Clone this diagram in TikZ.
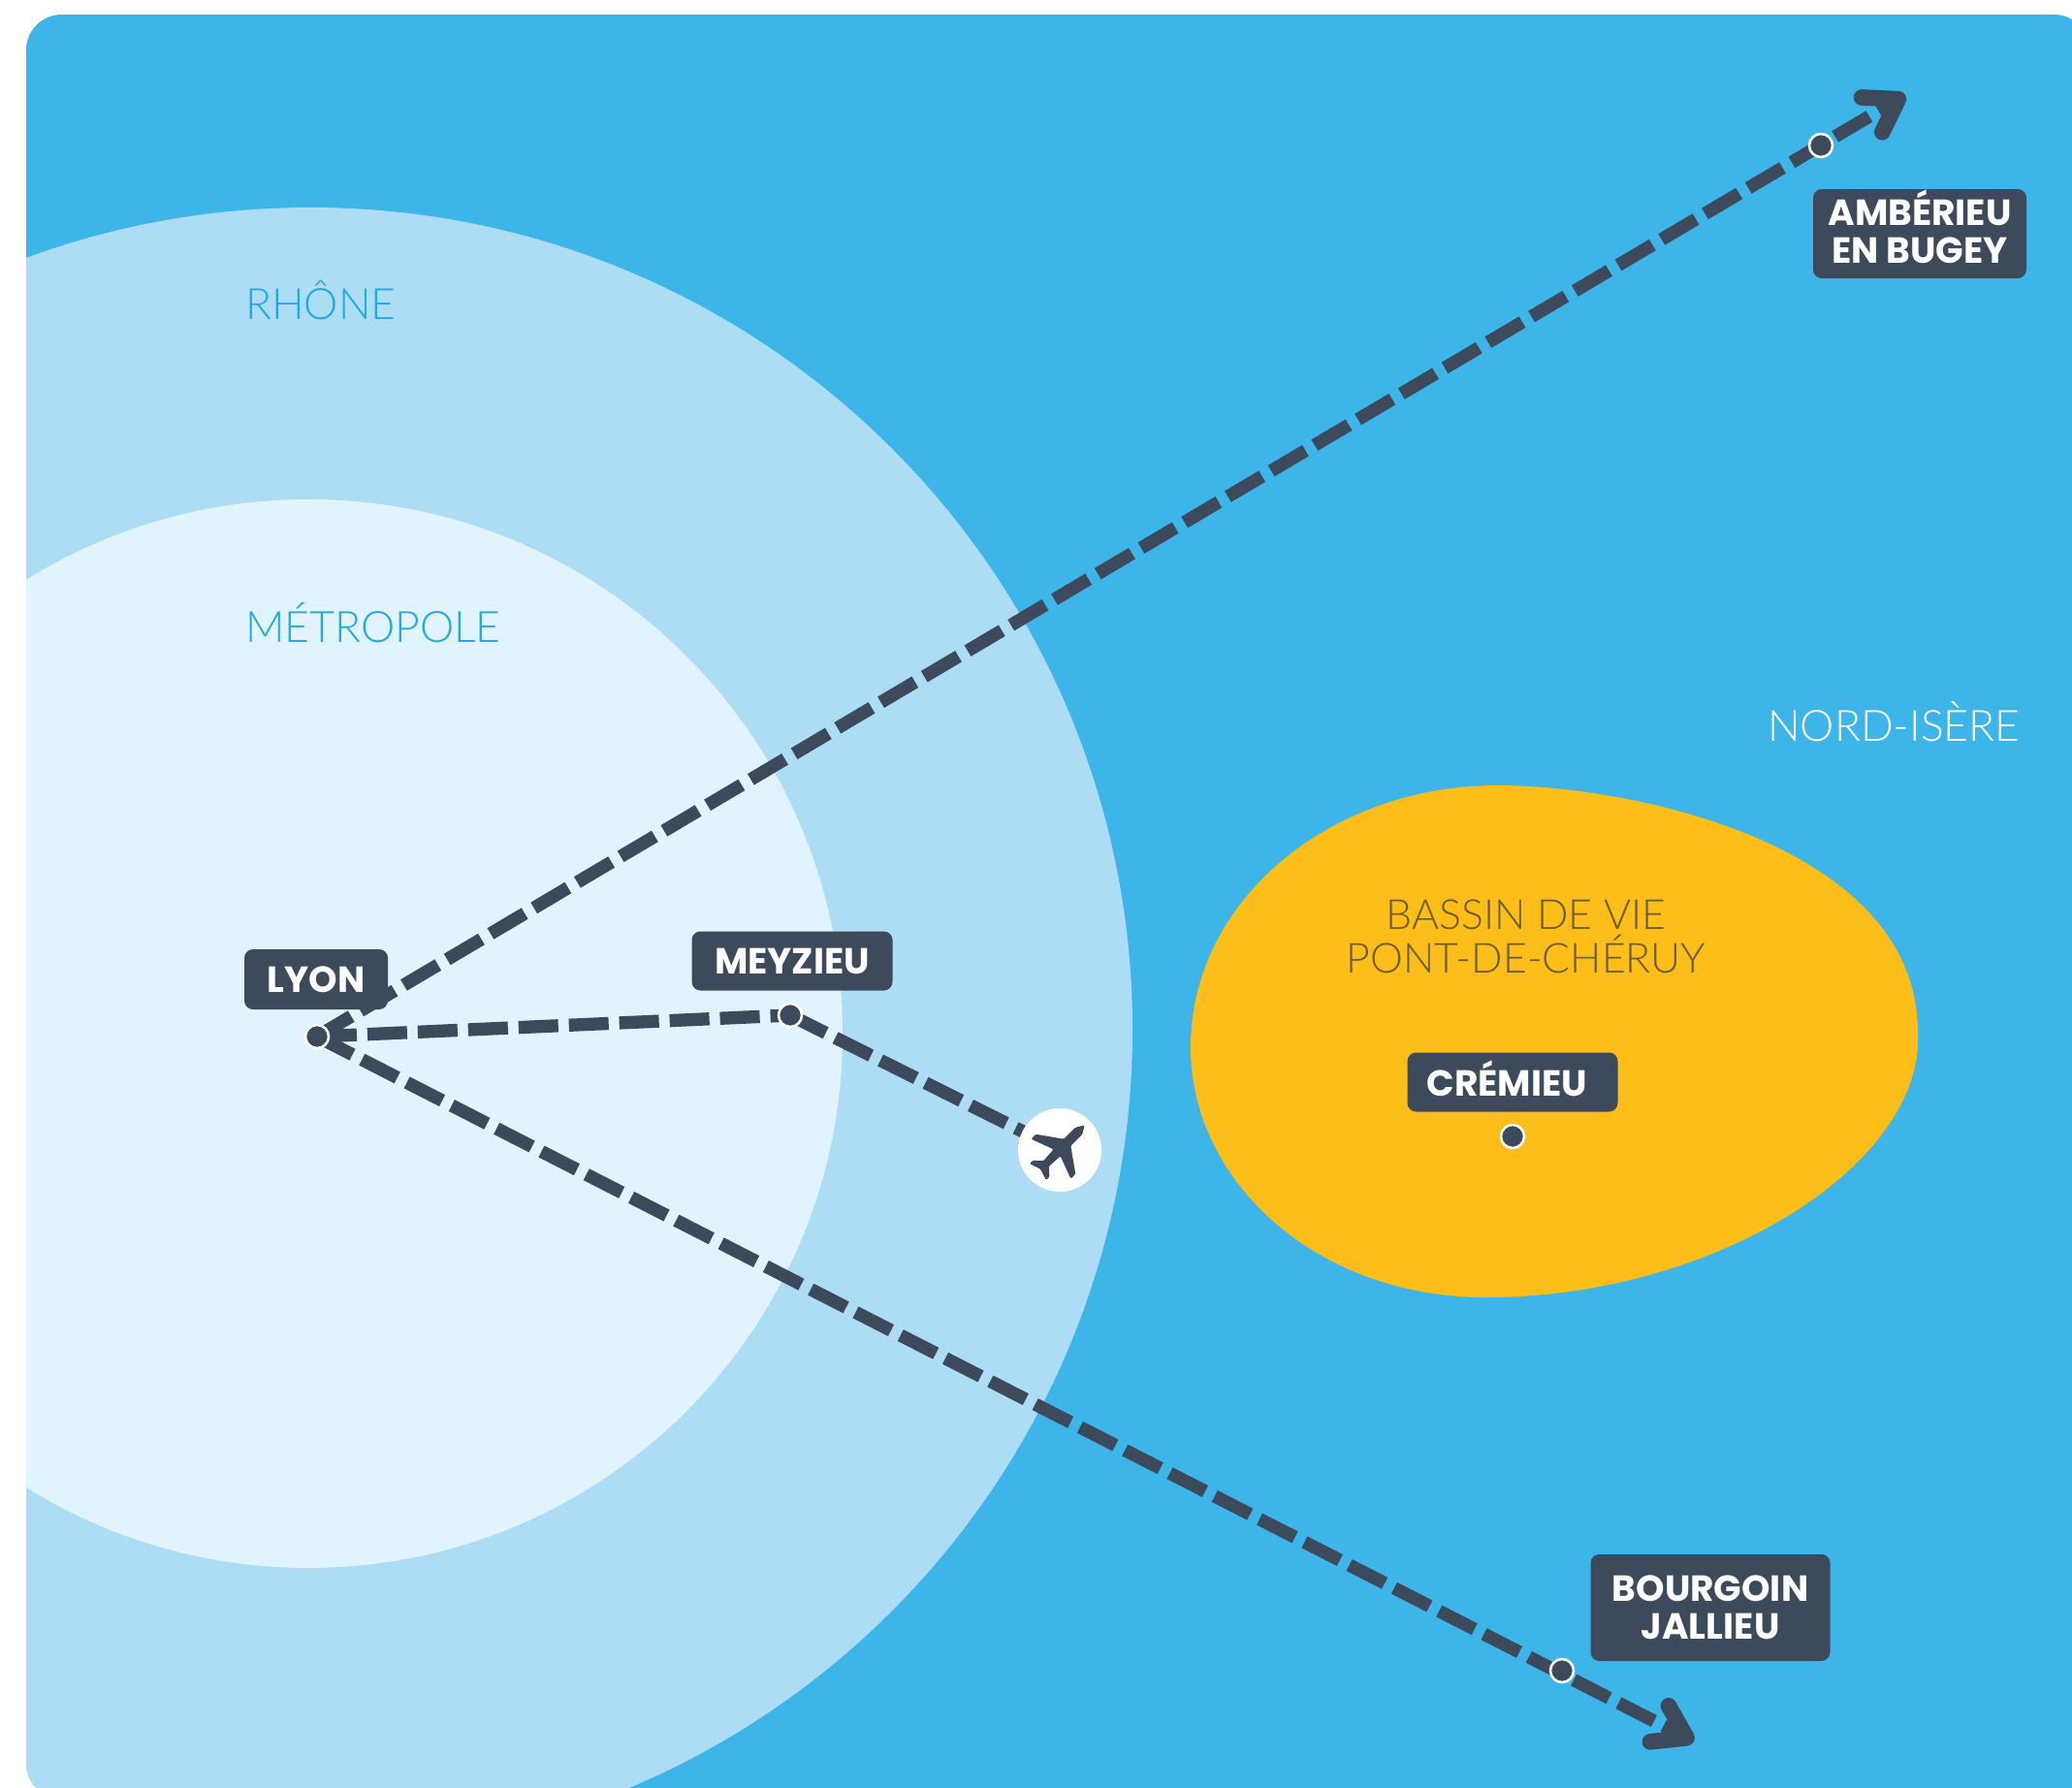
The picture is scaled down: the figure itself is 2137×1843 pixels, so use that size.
\documentclass[tikz,border=0pt]{standalone}
\usepackage{fontspec}
\setmainfont{Poppins}
\newfontfamily\lightfont{Lato Light}
\usetikzlibrary{arrows.meta}
\definecolor{skyblue}{HTML}{3DB5E9}
\definecolor{midblue}{HTML}{ACDDF5}
\definecolor{paleblue}{HTML}{E1F3FD}
\definecolor{sunyellow}{HTML}{FDBE1A}
\definecolor{slate}{HTML}{3D4A5C}
\definecolor{zonecyan}{HTML}{1FA8E2}
\definecolor{basintext}{HTML}{6B5B2E}
\tikzset{
  x=0.03cm,y=-0.03cm,
  placelabel/.style={fill=slate,text=white,rounded corners=0.27cm,font=\bfseries\fontsize{32}{33.5}\selectfont,align=center,inner sep=0pt,anchor=center},
  zonetext/.style={font=\lightfont\fontsize{38}{40}\selectfont,anchor=base west,inner sep=0pt},
  placedot/.style={circle,fill=slate,draw=white,line width=2.2pt,minimum size=0.72cm,inner sep=0pt},
  route/.style={draw=slate,line width=0.4cm,dash pattern=on 1.23cm off 0.33cm},
  routearrow/.style={route,-{Straight Barb[length=0.95cm,width=1.25cm,line width=0.5cm,round]}}
}
\begin{document}
\begin{tikzpicture}
\useasboundingbox (0,0) rectangle (2137,1843);
\fill[white] (0,0) rectangle (2137,1843);
\begin{scope}
  \clip[rounded corners=1.1cm] (27,15) rectangle (2155,1855);
  \fill[skyblue] (0,0) rectangle (2300,2000);
  \fill[midblue] (320,1062) circle [radius=848];
  \fill[paleblue] (318,1066) circle [radius=551];
\end{scope}
\fill[sunyellow] (1228,1080)
  .. controls (1228,930) and (1370,810) .. (1545,810)
  .. controls (1680,810) and (1978,870) .. (1978,1065)
  .. controls (1985,1200) and (1770,1338) .. (1532,1338)
  .. controls (1360,1338) and (1228,1220) .. (1228,1080) -- cycle;

\node[zonetext,text=zonecyan] (rhone) at (253,329) {RHÔNE};
\node[zonetext,text=zonecyan] (metro) at (253,662) {MÉTROPOLE};
\node[zonetext,text=white] (nord) at (1823,764) {NORD-ISÈRE};
\node[text=basintext,font=\lightfont\fontsize{36.5}{38.5}\selectfont,align=center,inner sep=0pt] (basin) at (1574,966) {BASSIN DE VIE\\PONT-DE-CHÉRUY};

\coordinate (lyonpt) at (327,1069);
\coordinate (meypt) at (815,1047);
\coordinate (ambpt) at (1878,150);
\coordinate (bourpt) at (1611,1723);
\coordinate (ambtip) at (1965,98);
\coordinate (bourtip) at (1747,1796);
\coordinate (planept) at (1093,1186);

\node[placelabel,minimum width=4.44cm,minimum height=1.86cm] (lyon) at (326,1010) {LYON};
\node[placelabel,minimum width=6.21cm,minimum height=1.83cm] (meyzieu) at (817,991) {MEYZIEU};
\node[placelabel,minimum width=6.6cm,minimum height=2.76cm,text depth=12pt] (amberieu) at (1980,241) {AMBÉRIEU\\EN BUGEY};
\node[placelabel,minimum width=7.41cm,minimum height=3.3cm] (bourgoin) at (1764,1658) {BOURGOIN\\JALLIEU};
\node[placelabel,minimum width=6.51cm,minimum height=1.83cm,text width=6.51cm,align=left,text depth=7pt] (cremieu) at (1560,1116) {\hspace{0.6cm}CRÉMIEU};

\path[routearrow] (lyonpt) -- (ambtip);
\path[routearrow] (lyonpt) -- (bourtip);
\path[route] (lyonpt) -- (meypt);
\path[route] (meypt) -- (planept);

\node[circle,fill=white,minimum size=2.58cm,inner sep=0pt] (plane) at (planept) {};
\begin{scope}[shift={(planept)},rotate=-45]
  \fill[slate,rounded corners=0.04cm] (0,-36) -- (5,-28) -- (5,-11) -- (29,6) -- (29,13) -- (5,4) -- (4,20) -- (12,27) -- (12,32) -- (0,28) -- (-12,32) -- (-12,27) -- (-4,20) -- (-5,4) -- (-29,13) -- (-29,6) -- (-5,-11) -- (-5,-28) -- cycle;
\end{scope}

\node[placedot] (lyondot) at (lyonpt) {};
\node[placedot] (meydot) at (meypt) {};
\node[placedot] (ambdot) at (ambpt) {};
\node[placedot] (bourdot) at (bourpt) {};
\node[placedot] (cremdot) at (1560,1172) {};
\end{tikzpicture}
\end{document}
